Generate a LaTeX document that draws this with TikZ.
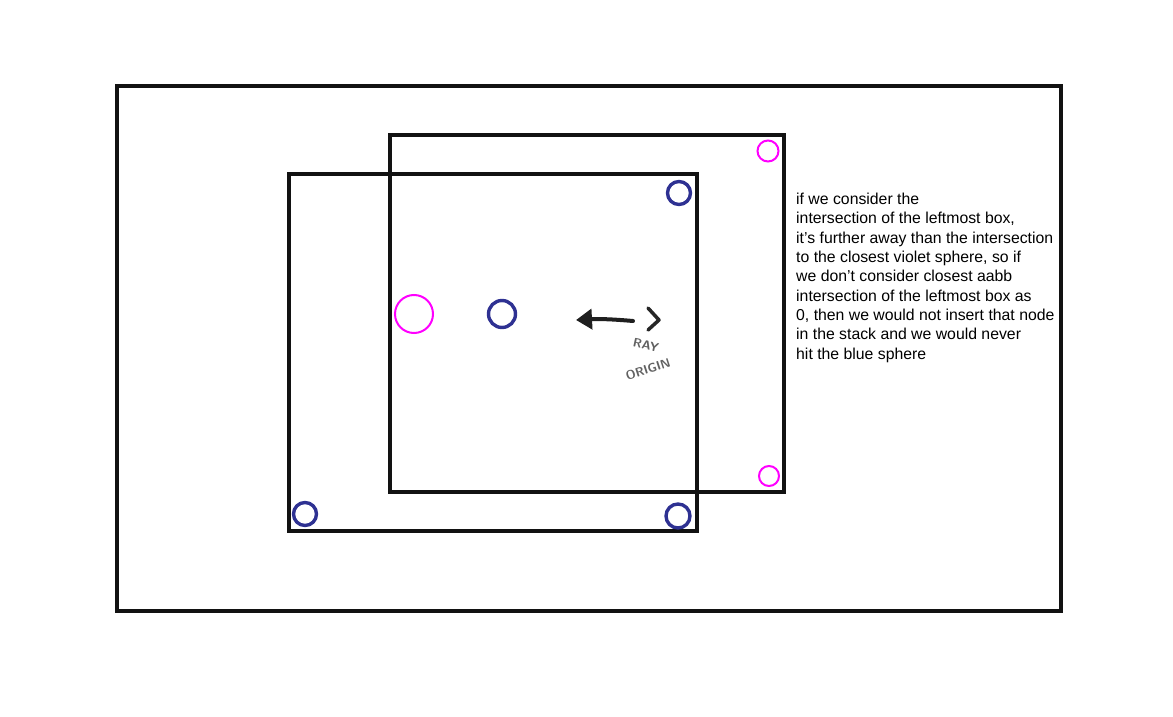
\documentclass[tikz,border=0pt]{standalone}
\usepackage{fontspec}
\setmainfont{Liberation Sans}
\usetikzlibrary{arrows.meta}
\definecolor{navy}{HTML}{2E3192}
\definecolor{violet}{HTML}{FF00FF}
\tikzset{
	box/.style={draw=black!93, line width=3.6pt},
	bluesph/.style={circle, draw=navy, line width=3.4pt, inner sep=0pt},
	violetsph/.style={circle, draw=violet, line width=2pt, inner sep=0pt},
	hand/.style={black!62, font=\bfseries\sffamily\fontsize{12.5}{12.5}\selectfont, inner sep=0pt},
}
\begin{document}
\begin{tikzpicture}[x=1pt, y=-1pt]
	\useasboundingbox (0,0) rectangle (1173,717);
	\draw[box] (117,86) rectangle (1061,611);
	\draw[box] (289,174) rectangle (697,531);
	\draw[box] (390,135) rectangle (784,492);
	\node[violetsph, minimum size=38pt] (vbig) at (414,314) {};
	\node[violetsph, minimum size=21pt] (vtop) at (768,151) {};
	\node[violetsph, minimum size=20pt] (vbot) at (769,476) {};
	\node[bluesph, minimum size=27pt] (bmid) at (502,314) {};
	\node[bluesph, minimum size=23pt] (btop) at (679,193) {};
	\node[bluesph, minimum size=23pt] (bleft) at (305,514) {};
	\node[bluesph, minimum size=24pt] (bright) at (678,516) {};
	\coordinate (rayA) at (633,321);
	\coordinate (rayB) at (576,320);
	\draw[line width=4pt, black!88, line cap=round, -{Triangle[length=16pt, width=20pt]}] (rayA) to[bend right=4] (rayB);
	\draw[line width=3.5pt, black!85, line cap=round, line join=round] (648,308) -- (659,320) -- (648,330);
	\node[hand, rotate=-12] (ray) at (646,345) {RAY};
	\node[hand, rotate=18] (origin) at (648,369) {ORIGIN};
	\node[anchor=north west, align=left, inner sep=0pt, font=\fontsize{15.8}{19.3}\selectfont] (note) at (796,193)
	{if we consider the\\ intersection of the leftmost box,\\ it’s further away than the intersection\\ to the closest violet sphere, so if\\ we don’t consider closest aabb\\ intersection of the leftmost box as\\ 0, then we would not insert that node\\ in the stack and we would never\\ hit the blue sphere};
\end{tikzpicture}
\end{document}
